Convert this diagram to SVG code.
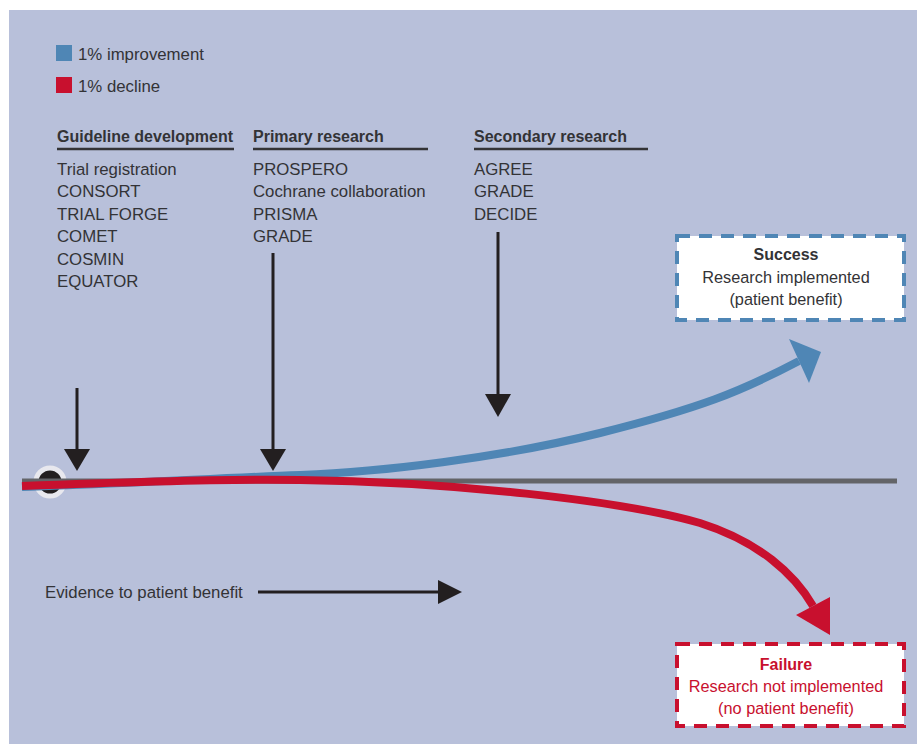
<svg xmlns="http://www.w3.org/2000/svg" width="923" height="744" viewBox="0 0 923 744">
<style>
  text { font-family: "Liberation Sans", Arial, sans-serif; font-size: 16.8px; fill: #333336; }
  .hd { font-weight: bold; font-size: 16px; }
  .bx { font-size: 16.3px; }
  .ctr { text-anchor: middle; }
  .red { fill: #C8102E; }
  .ul { stroke: #333336; stroke-width: 2.5; }
  .blk { stroke: #231F20; stroke-width: 3; fill: none; }
  .head { fill: #231F20; }
  .box { fill: #FFFFFF; stroke-width: 4; stroke-dasharray: 13 9; }
</style>
<rect x="0" y="0" width="923" height="744" fill="#FFFFFF"/>
<rect x="9" y="10" width="908" height="734" fill="#B8C0DA"/>

<g id="legend">
  <rect x="56" y="45" width="16" height="16" fill="#4F86B5"/>
  <text x="78" y="60">1% improvement</text>
  <rect x="56" y="77" width="16" height="16" fill="#C8102E"/>
  <text x="78" y="92">1% decline</text>
</g>

<g id="guideline-development">
  <text class="hd" x="57" y="142">Guideline development</text>
  <line class="ul" x1="57" y1="149" x2="234" y2="149"/>
  <text x="57" y="175">Trial registration</text>
  <text x="57" y="197">CONSORT</text>
  <text x="57" y="220">TRIAL FORGE</text>
  <text x="57" y="242">COMET</text>
  <text x="57" y="265">COSMIN</text>
  <text x="57" y="287">EQUATOR</text>
</g>

<g id="primary-research">
  <text class="hd" x="253" y="142">Primary research</text>
  <line class="ul" x1="253" y1="149" x2="428" y2="149"/>
  <text x="253" y="175">PROSPERO</text>
  <text x="253" y="197">Cochrane collaboration</text>
  <text x="253" y="220">PRISMA</text>
  <text x="253" y="242">GRADE</text>
</g>

<g id="secondary-research">
  <text class="hd" x="474" y="142">Secondary research</text>
  <line class="ul" x1="474" y1="149" x2="648" y2="149"/>
  <text x="474" y="175">AGREE</text>
  <text x="474" y="197">GRADE</text>
  <text x="474" y="220">DECIDE</text>
</g>

<g id="success">
  <rect class="box" x="677" y="236" width="227" height="84" stroke="#4F86B5"/>
  <text class="hd ctr" x="786" y="260">Success</text>
  <text class="bx ctr" x="786" y="283">Research implemented</text>
  <text class="bx ctr" x="786" y="305">(patient benefit)</text>
</g>

<g id="failure">
  <rect class="box" x="677" y="644" width="227" height="82" stroke="#C8102E"/>
  <text class="hd ctr red" x="786" y="670">Failure</text>
  <text class="bx ctr red" x="786" y="692">Research not implemented</text>
  <text class="bx ctr red" x="786" y="714">(no patient benefit)</text>
</g>

<g id="evidence-label">
  <text x="45" y="598">Evidence to patient benefit</text>
</g>

<g id="start">
  <circle cx="50" cy="482" r="14" fill="#231F20" stroke="#E8E8EE" stroke-width="5"/>
</g>

<g id="connectors">
  <line x1="22" y1="481" x2="897" y2="481" stroke="#636468" stroke-width="5"/>
  <path d="M22,487 C120,484 220,478 300,475 S500,458 600,433 S740,392 799,361" fill="none" stroke="#4F86B5" stroke-width="8"/>
  <polygon points="821,352 789,339 809,383" fill="#4F86B5"/>
  <path d="M22,486 C150,481 250,479 300,480 C450,482 620,500 700,523 C760,542 795,575 813,606" fill="none" stroke="#C8102E" stroke-width="8"/>
  <polygon points="830,635 796,615 830,597" fill="#C8102E"/>

  <line class="blk" x1="77" y1="388" x2="77" y2="452"/>
  <polygon class="head" points="64,449 90,449 77,471"/>
  <line class="blk" x1="273" y1="253" x2="273" y2="452"/>
  <polygon class="head" points="260,449 286,449 273,471"/>
  <line class="blk" x1="498" y1="232" x2="498" y2="397"/>
  <polygon class="head" points="485,394 511,394 498,417"/>
  <line class="blk" x1="258" y1="592" x2="441" y2="592"/>
  <polygon class="head" points="438,580 438,604 462,592"/>
</g>
</svg>
